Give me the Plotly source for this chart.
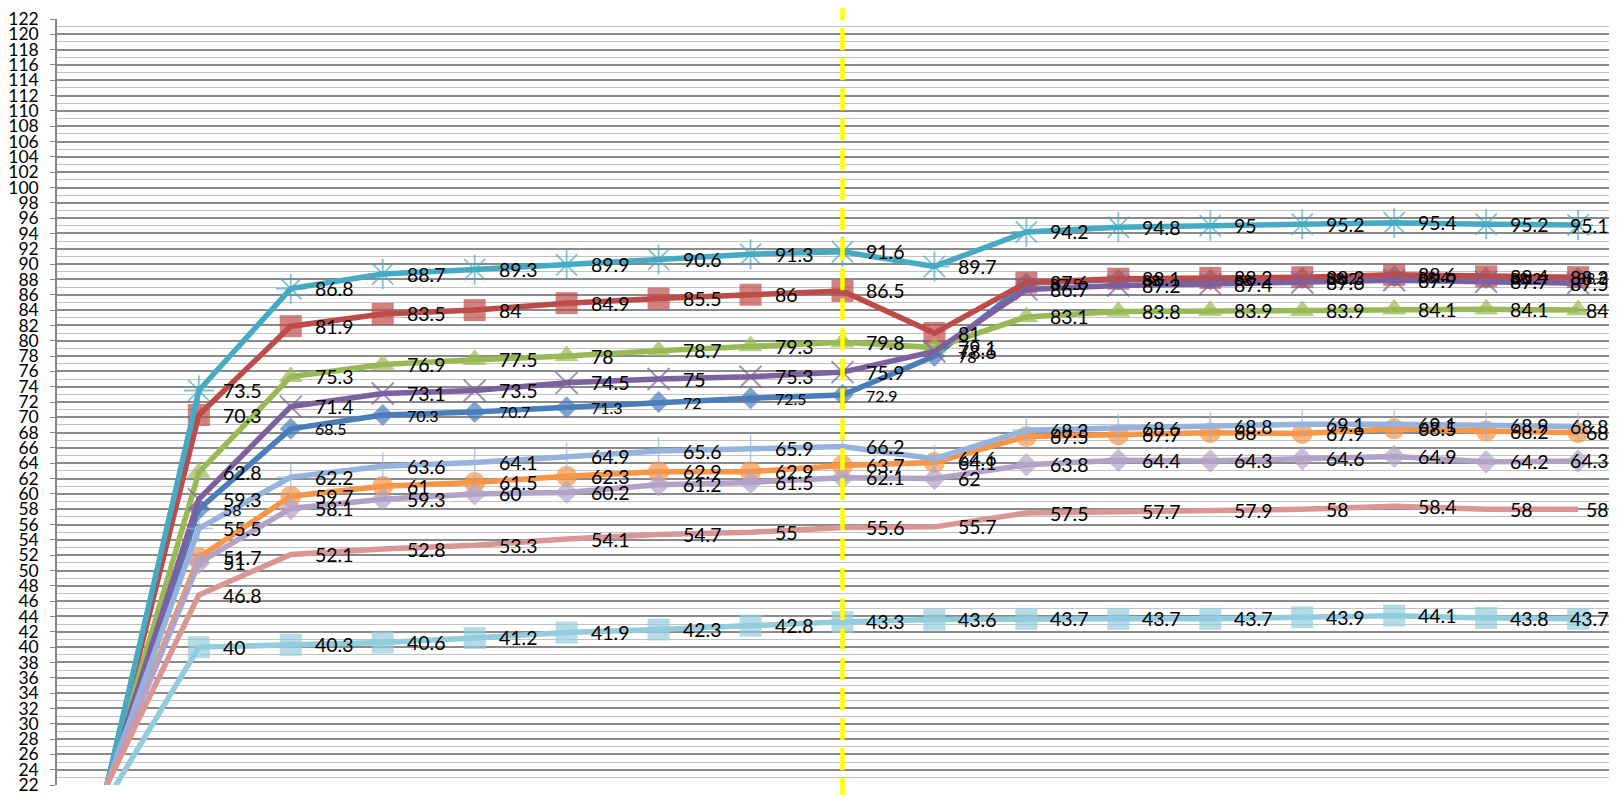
import plotly.graph_objects as go

# ---- data ----
x_idx = list(range(17))
marker_index = 8  # position of the yellow dashed reference line

teal = [22, 73.5, 86.8, 88.7, 89.3, 89.9, 90.6, 91.3, 91.6, 89.7, 94.2, 94.8, 95, 95.2, 95.4, 95.2, 95.1]
red = [22, 70.3, 81.9, 83.5, 84, 84.9, 85.5, 86, 86.5, 81, 87.6, 88.1, 88.2, 88.3, 88.6, 88.4, 88.3]
green = [22, 62.8, 75.3, 76.9, 77.5, 78, 78.7, 79.3, 79.8, 79.1, 83.1, 83.8, 83.9, 83.9, 84.1, 84.1, 84]
purple = [22, 59.3, 71.4, 73.1, 73.5, 74.5, 75, 75.3, 75.9, 78.6, 86.7, 87.2, 87.4, 87.6, 87.9, 87.7, 87.5]
blue = [22, 58, 68.5, 70.3, 70.7, 71.3, 72, 72.5, 72.9, 78.0, 87.5, 88, 88, 88.2, 88.4, 88.2, 88.2]
lightblue_plus = [22, 55.5, 62.2, 63.6, 64.1, 64.9, 65.6, 65.9, 66.2, 64.6, 68.3, 68.6, 68.8, 69.1, 69.1, 68.9, 68.8]
orange = [22, 51.7, 59.7, 61, 61.5, 62.3, 62.9, 62.9, 63.7, 64.1, 67.5, 67.7, 68, 67.9, 68.5, 68.2, 68]
lavender = [22, 51, 58.1, 59.3, 60, 60.2, 61.2, 61.5, 62.1, 62, 63.8, 64.4, 64.3, 64.6, 64.9, 64.2, 64.3]
pink = [22, 46.8, 52.1, 52.8, 53.3, 54.1, 54.7, 55, 55.6, 55.7, 57.5, 57.7, 57.9, 58, 58.4, 58, 58]
lightblue_sq = [20, 40, 40.3, 40.6, 41.2, 41.9, 42.3, 42.8, 43.3, 43.6, 43.7, 43.7, 43.7, 43.9, 44.1, 43.8, 43.7]

y_ticks = list(range(22, 123, 2))

# ---- styles ----
series = [
    # values, color, symbol, size, marker line width, label font size
    (blue, "#4A7EBB", "diamond", 17, 0, 16),
    (red, "#BE4B48", "square", 22, 0, 19.5),
    (green, "#98B954", "triangle-up", 21, 0, 19.5),
    (purple, "#7D60A0", "x-thin-open", 22, 2, 19.5),
    (teal, "#46AAC5", "asterisk-open", 25, 1.8, 19.5),
    (orange, "#F79646", "circle", 21, 0, 19.5),
    (lightblue_plus, "#95B3DE", "cross-thin-open", 20, 1.5, 19.5),
    (lavender, "#B3A2C7", "diamond", 18, 0, 19.5),
    (pink, "#D99694", None, 0, 0, 19.5),
    (lightblue_sq, "#93CDDD", "square", 22, 0, 19.5),
]

FONT = "Lato, 'Open Sans', Arial, sans-serif"

fig = go.Figure()
annotations = []
for vals, color, sym, size, lw, fsize in series:
    if sym is None:
        fig.add_trace(go.Scatter(x=x_idx, y=vals, mode="lines",
                                 line=dict(color=color, width=5.5),
                                 showlegend=False, hoverinfo="skip"))
    else:
        sizes = [0] + [size] * (len(vals) - 1)
        fig.add_trace(go.Scatter(
            x=x_idx, y=vals, mode="lines+markers",
            line=dict(color=color, width=5.5),
            marker=dict(symbol=sym, size=sizes, color=color,
                        line=dict(color=color, width=lw)),
            showlegend=False, hoverinfo="skip"))
    last = len(vals) - 1
    for i in range(1, len(vals)):
        txt = f"{vals[i]:g}"
        if i == last:
            annotations.append(dict(x=1, xref="paper", y=vals[i], yref="y",
                                    text=txt, showarrow=False, xanchor="right",
                                    yanchor="middle", xshift=-6,
                                    font=dict(family=FONT, size=fsize, color="#000000")))
        else:
            annotations.append(dict(x=x_idx[i], y=vals[i], text=txt, showarrow=False,
                                    xanchor="left", yanchor="middle", xshift=22,
                                    font=dict(family=FONT, size=fsize, color="#000000")))

fig.update_layout(
    width=1609, height=787,
    margin=dict(l=45, r=0, t=7, b=5),
    paper_bgcolor="white", plot_bgcolor="white",
    annotations=annotations,
    shapes=[dict(type="line", xref="x", yref="paper",
                 x0=x_idx[marker_index], x1=x_idx[marker_index], y0=-0.02, y1=1.03,
                 line=dict(color="#FFFF00", width=4.5, dash="22px,8px"), layer="above")],
)
fig.update_xaxes(range=[-0.5424, 16.423], showgrid=False, zeroline=False,
                 showticklabels=False, ticks="", showline=False)
fig.update_yaxes(range=[22, 122], tickvals=y_ticks, ticktext=[str(v) for v in y_ticks],
                 showgrid=True, gridcolor="#8A8A8A", gridwidth=1.5,
                 minor=dict(dtick=1, tick0=22, showgrid=True, gridcolor="#C2C2C2", gridwidth=1.2),
                 zeroline=False, showline=True, linecolor="#868686", linewidth=1.5,
                 ticks="outside", ticklen=5, tickcolor="#868686",
                 ticklabelstandoff=8, ticklabeloverflow="allow",
                 tickfont=dict(family=FONT, size=17.5, color="#000000"))

fig.write_html("out.html")
